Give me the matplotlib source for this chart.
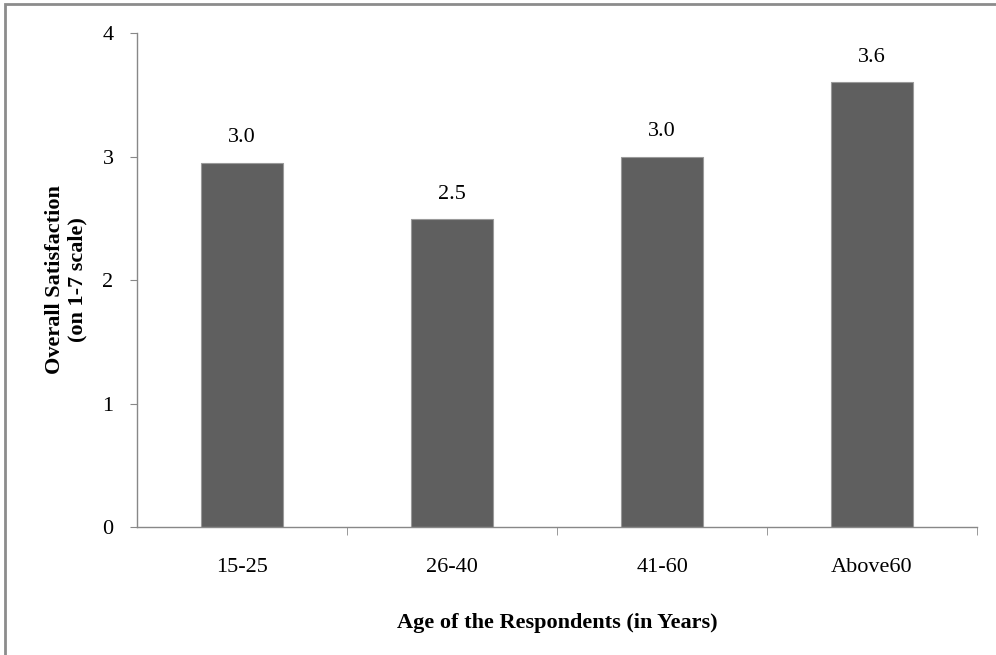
import matplotlib.pyplot as plt
from matplotlib.patches import Rectangle

age_groups = ["15-25", "26-40", "41-60", "Above60"]
satisfaction = [2.95, 2.49, 3.0, 3.6]
y_ticks = [0, 1, 2, 3, 4]

plt.rcParams['font.family'] = ['Liberation Serif', 'DejaVu Serif']

fig = plt.figure(figsize=(9.96, 6.55), dpi=100)
ax = fig.add_axes([0.1376, 0.1954, 0.8434, 0.7542])

x = range(len(age_groups))
bars = ax.bar(x, satisfaction, width=0.39, color="#5f5f5f",
              edgecolor="#9a9a9a", linewidth=0.8, zorder=2)

for b, v in zip(bars, satisfaction):
    ax.annotate(f"{v:.1f}", (b.get_x() + b.get_width() / 2, v),
                xytext=(0, 11), textcoords="offset points",
                ha="center", va="bottom", fontsize=16)

ax.set_xlim(-0.5, len(age_groups) - 0.5)
ax.set_ylim(0, 4)
ax.set_yticks(y_ticks)
ax.tick_params(axis="y", labelsize=16, length=5, color="#888888",
               pad=12, direction="out")

# category labels centred, tick marks between categories
ax.set_xticks(list(x))
ax.set_xticklabels(age_groups, fontsize=16)
ax.tick_params(axis="x", which="major", length=0, pad=22)
ax.set_xticks([i + 0.5 for i in range(len(age_groups))], minor=True)
ax.tick_params(axis="x", which="minor", length=6, color="#888888",
               direction="out")

for side in ["top", "right"]:
    ax.spines[side].set_visible(False)
for side in ["left", "bottom"]:
    ax.spines[side].set_color("#888888")
    ax.spines[side].set_linewidth(1.0)

ax.set_xlabel("Age of the Respondents (in Years)", fontsize=16,
              fontweight="bold", labelpad=26)
ax.set_ylabel("Overall Satisfaction\n(on 1-7 scale)", fontsize=16,
              fontweight="bold", labelpad=11, linespacing=1.15)

# outer frame of the chart area
fig.patches.append(Rectangle((5 / 996, -0.05), 1.2, 1 - 4 / 655 + 0.05,
                             transform=fig.transFigure, fill=False,
                             edgecolor="#8c8c8c", linewidth=2.0))

fig.savefig("out.png", dpi=100)
